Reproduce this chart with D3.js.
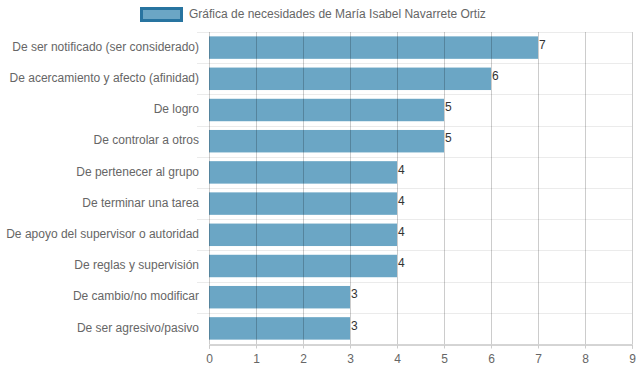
<!DOCTYPE html>
<html>
<head>
<meta charset="utf-8">
<script src="https://cdn.jsdelivr.net/npm/d3@7"></script>
<style>
  body { margin: 0; background: #fff; }
  text { font-family: "Liberation Sans", Arial, sans-serif; }
</style>
</head>
<body>
<script>
// Chart data
var categories = [
  "De ser notificado (ser considerado)",
  "De acercamiento y afecto (afinidad)",
  "De logro",
  "De controlar a otros",
  "De pertenecer al grupo",
  "De terminar una tarea",
  "De apoyo del supervisor o autoridad",
  "De reglas y supervisión",
  "De cambio/no modificar",
  "De ser agresivo/pasivo"
];
var values = [7, 6, 5, 5, 4, 4, 4, 4, 3, 3];
var xTicks = [0, 1, 2, 3, 4, 5, 6, 7, 8, 9];
var seriesName = "Gráfica de necesidades de María Isabel Navarrete Ortiz";

var svgWidth = 639;
var svgHeight = 372;

var chartMargin = { top: 32, right: 7, bottom: 28, left: 209 };
var width = svgWidth - chartMargin.left - chartMargin.right;
var height = svgHeight - chartMargin.top - chartMargin.bottom;

var svg = d3.select("body")
  .append("svg")
  .attr("width", svgWidth)
  .attr("height", svgHeight);

var chartGroup = svg.append("g")
  .attr("transform", `translate(${chartMargin.left}, ${chartMargin.top})`);

var xScale = d3.scaleLinear()
  .domain([0, 9])
  .range([0, width]);

var yBand = d3.scaleBand()
  .domain(categories)
  .range([0, height]);

// horizontal grid lines between categories
var hLines = d3.range(categories.length).map(i => yBand(categories[i]));
chartGroup.selectAll(".hgrid")
  .data(hLines)
  .enter()
  .append("line")
  .attr("x1", -12)
  .attr("x2", width)
  .attr("y1", d => Math.round(d) + 0.5)
  .attr("y2", d => Math.round(d) + 0.5)
  .attr("stroke", "#ebebeb");

// bars
var barH = yBand.bandwidth() * 0.72;
chartGroup.selectAll(".bar")
  .data(values)
  .enter()
  .append("rect")
  .attr("class", "bar")
  .attr("x", xScale(0))
  .attr("y", (d, i) => yBand(categories[i]) + (yBand.bandwidth() - barH) / 2)
  .attr("width", d => xScale(d) - xScale(0))
  .attr("height", barH)
  .attr("fill", "rgb(44,128,172)")
  .attr("fill-opacity", 0.7);

// vertical grid lines (drawn over bars)
chartGroup.selectAll(".vgrid")
  .data(xTicks)
  .enter()
  .append("line")
  .attr("x1", d => Math.round(xScale(d)) + 0.5)
  .attr("x2", d => Math.round(xScale(d)) + 0.5)
  .attr("y1", 0)
  .attr("y2", height)
  .attr("stroke", "rgba(0,0,0,0.2)");

// x axis
var bottomAxis = d3.axisBottom(xScale)
  .tickValues(xTicks)
  .tickSize(4)
  .tickPadding(6);

var xAxis = chartGroup.append("g")
  .attr("transform", `translate(0, ${height + 0.5})`)
  .call(bottomAxis);
xAxis.select(".domain").attr("stroke", "#aaa");
xAxis.selectAll(".tick line").attr("stroke", "#ccc");
xAxis.selectAll("text")
  .attr("fill", "#666")
  .style("font-size", "12px");

// category labels
chartGroup.selectAll(".cat")
  .data(categories)
  .enter()
  .append("text")
  .attr("x", -10)
  .attr("y", d => yBand(d) + yBand.bandwidth() / 2 - 1)
  .attr("dy", "0.35em")
  .attr("text-anchor", "end")
  .attr("fill", "#666")
  .style("font-size", "12px")
  .text(d => d);

// value labels
chartGroup.selectAll(".val")
  .data(values)
  .enter()
  .append("text")
  .attr("x", d => xScale(d) + 1)
  .attr("y", (d, i) => yBand(categories[i]) + yBand.bandwidth() / 2 - 3)
  .attr("dy", "0.35em")
  .attr("fill", "#333")
  .style("font-size", "12px")
  .text(d => d);

// legend
var legend = svg.append("g").attr("transform", "translate(141, 8)");
legend.append("rect")
  .attr("x", 0.5)
  .attr("y", 0.5)
  .attr("width", 40)
  .attr("height", 12)
  .attr("fill", "rgb(44,128,172)")
  .attr("fill-opacity", 0.7)
  .attr("stroke", "rgb(40,116,160)")
  .attr("stroke-width", 3);
legend.append("text")
  .attr("x", 48)
  .attr("y", 6)
  .attr("dy", "0.35em")
  .attr("fill", "#666")
  .style("font-size", "12px")
  .text(seriesName);
</script>
</body>
</html>
